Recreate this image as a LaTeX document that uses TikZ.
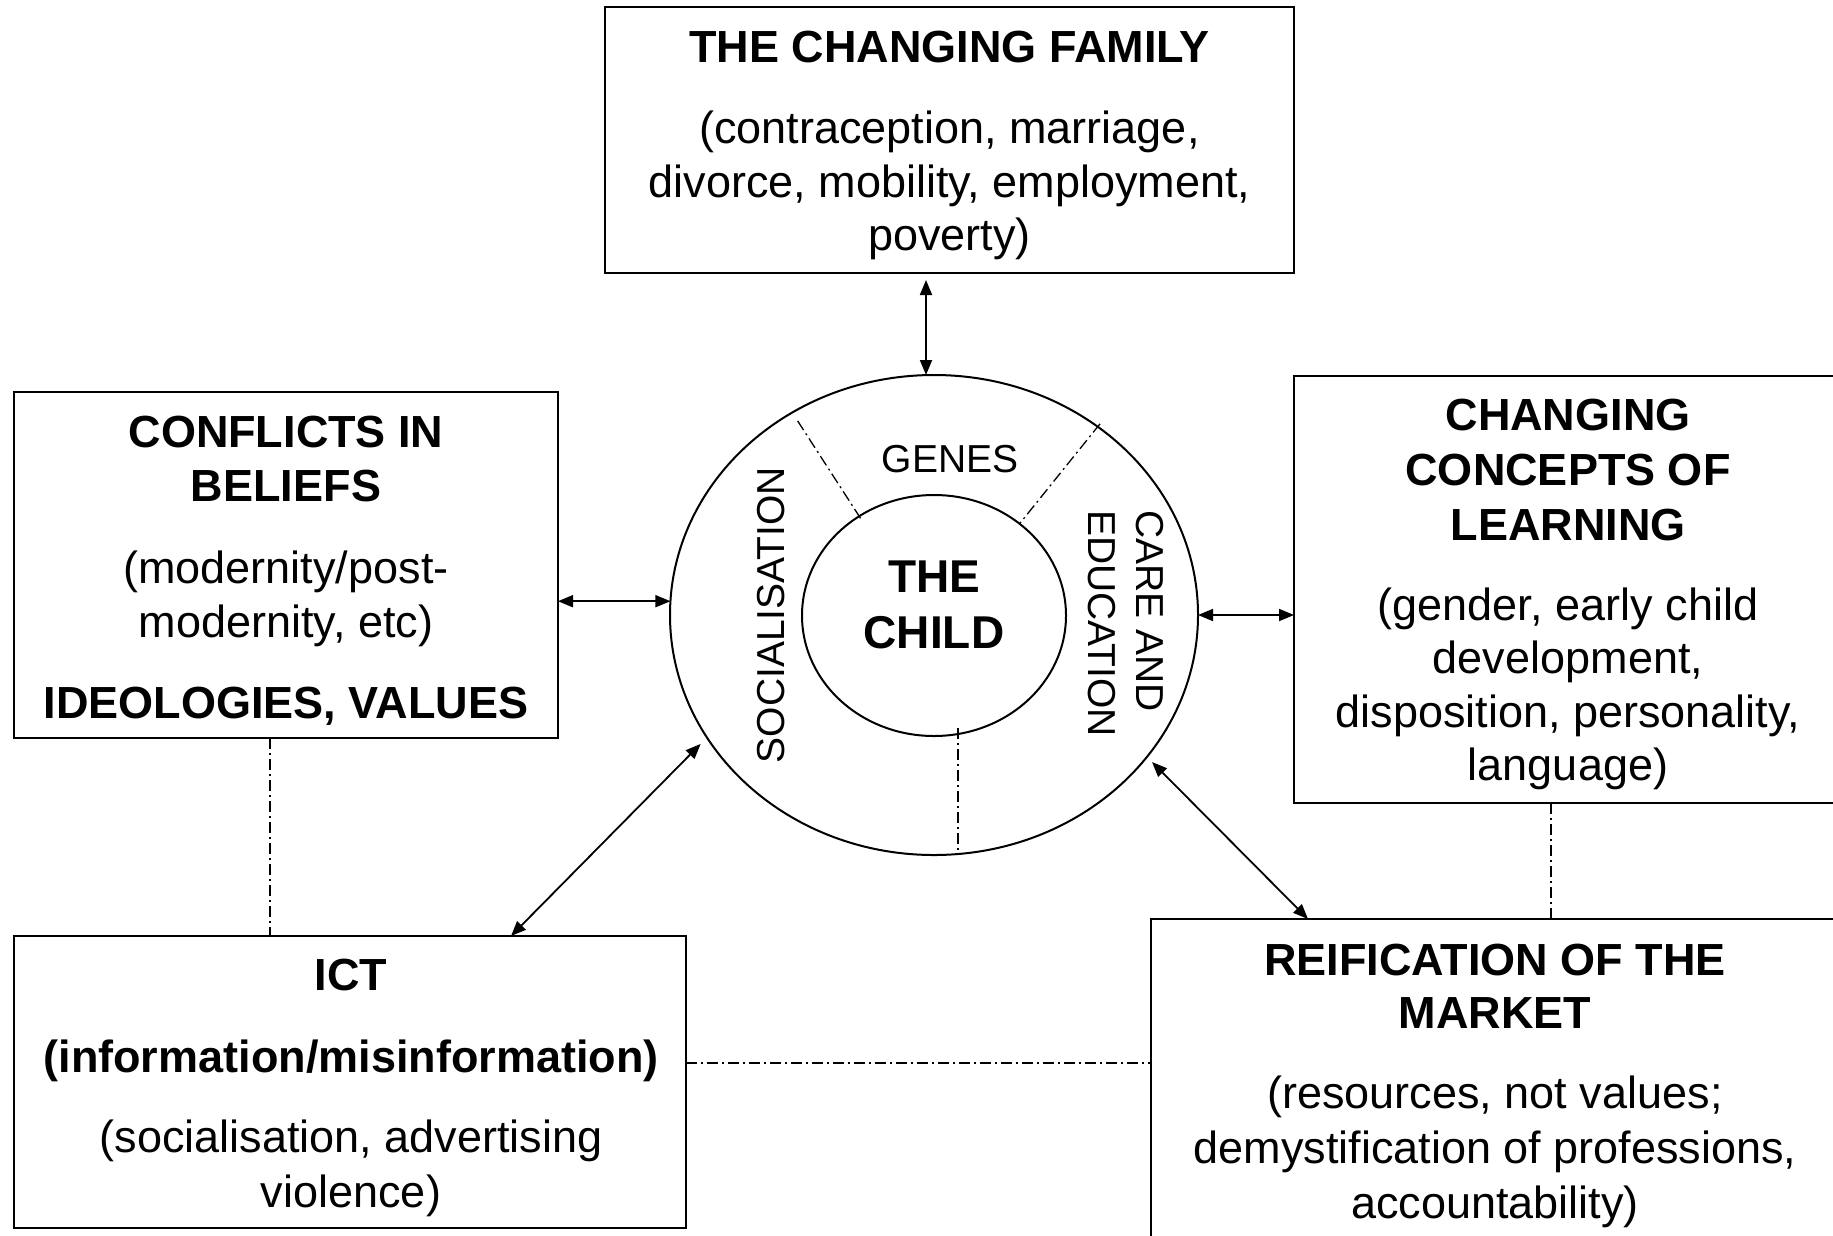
\documentclass[tikz,border=0pt]{standalone}
\usepackage{fontspec}
\setmainfont{Liberation Sans}
\usetikzlibrary{arrows.meta,calc,shapes.geometric}
\begin{document}
\begin{tikzpicture}[x=1pt,y=1pt,
 box/.style={draw, line width=2pt, inner sep=0pt, outer sep=0pt, anchor=north west},
 ring/.style={draw, ellipse, line width=2pt, inner sep=0pt, outer sep=0pt},
 bd/.style={inner sep=0pt, anchor=base, font=\fontsize{45}{54}\selectfont},
 hd/.style={inner sep=0pt, anchor=base, font=\fontsize{45}{54}\selectfont\bfseries},
 rl/.style={inner sep=0pt, font=\fontsize{39}{47}\selectfont},
 biarr/.style={{Triangle[length=15pt,width=12pt]}-{Triangle[length=15pt,width=12pt]}, line width=1.8pt},
 dd/.style={line width=1.3pt, dash pattern=on 11pt off 4pt on 2pt off 4pt}]
\useasboundingbox (0,0) rectangle (1833,-1235);
\begin{scope}
\clip (0,0) rectangle (1833,-1235);
% boxes
\node[box, minimum width=689pt, minimum height=266pt] (fam) at (605,-7) {};
\node[box, minimum width=544pt, minimum height=346pt] (conf) at (14,-392) {};
\node[box, minimum width=560pt, minimum height=427pt] (learn) at (1294,-376) {};
\node[box, minimum width=672pt, minimum height=292pt] (ict) at (14,-936) {};
\node[box, minimum width=699pt, minimum height=340pt] (mkt) at (1151,-919) {};
% rings
\node[ring, minimum width=528pt, minimum height=480pt] (outer) at (934,-615) {};
\node[ring, minimum width=264pt, minimum height=241pt] (inner) at (934,-615.5) {};
% texts: family
\node[hd] (f1) at (949.5,-62) {THE CHANGING FAMILY};
\node[bd] (f2) at (949.5,-143) {(contraception, marriage,};
\node[bd] (f3) at (949.5,-197) {divorce, mobility, employment,};
\node[bd] (f4) at (949.5,-250) {poverty)};
% conflicts
\node[hd] (c1) at (286,-447) {CONFLICTS IN};
\node[hd] (c2) at (286,-501) {BELIEFS};
\node[bd] (c3) at (286,-583) {(modernity/post-};
\node[bd] (c4) at (286,-637) {modernity, etc)};
\node[hd] (c5) at (286,-718) {IDEOLOGIES, VALUES};
% learning
\node[hd] (l1) at (1568,-430) {CHANGING};
\node[hd] (l2) at (1568,-485) {CONCEPTS OF};
\node[hd] (l3) at (1568,-540) {LEARNING};
\node[bd] (l4) at (1568,-620) {(gender, early child};
\node[bd] (l5) at (1568,-673) {development,};
\node[bd] (l6) at (1568,-727) {disposition, personality,};
\node[bd] (l7) at (1568,-780) {language)};
% ict
\node[hd] (i1) at (351,-990) {ICT};
\node[hd] (i2) at (351,-1072) {(information/misinformation)};
\node[bd] (i3) at (351,-1152) {(socialisation, advertising};
\node[bd] (i4) at (351,-1207) {violence)};
% market
\node[hd] (m1) at (1495,-975) {REIFICATION OF THE};
\node[hd] (m2) at (1495,-1028) {MARKET};
\node[bd] (m3) at (1495,-1108) {(resources, not values;};
\node[bd] (m4) at (1495,-1163) {demystification of professions,};
\node[bd] (m5) at (1495,-1218) {accountability)};
% ring texts
\node[rl, anchor=base] (genes) at (950,-472) {GENES};
\node[rl, rotate=90, anchor=base] (soc) at (784,-615) {SOCIALISATION};
\node[rl, rotate=-90, anchor=base west] (care) at (1136,-510) {CARE AND};
\node[rl, rotate=-90, anchor=base west] (edu) at (1088,-510) {EDUCATION};
\node[hd, font=\fontsize{46}{56}\selectfont\bfseries] (the) at (934,-592) {THE};
\node[hd, font=\fontsize{46}{56}\selectfont\bfseries] (child) at (934,-648) {CHILD};
% ring dividers
\draw[dd] ($(outer.125)!0.08!(inner.127)$) -- ($(outer.125)!1.04!(inner.127)$);
\draw[dd] ($(outer.49)!-0.03!(inner.47)$) -- (inner.47);
\draw[dd] ([xshift=24pt,yshift=8pt]inner.south) -- ([xshift=24pt]outer.south);
% arrows
\coordinate (famA) at ([xshift=-23.5pt,yshift=-7pt]fam.south);
\draw[biarr] (famA) -- (famA |- outer.north);
\draw[biarr] (conf.east |- outer.177) -- (outer.177);
\draw[biarr] (outer.east) -- (outer.east -| learn.west);
\draw[biarr] ([xshift=161pt]ict.north) -- ([shift={(-8pt,-4pt)}]outer.209);
\draw[biarr] ([shift={(6pt,-4pt)}]outer.-34) -- ([xshift=157pt]mkt.north west);
% dash-dot links
\coordinate (cd) at ([xshift=256pt]conf.south west);
\draw[dd] (cd) -- (cd |- ict.north);
\coordinate (ld) at ([xshift=257pt]learn.south west);
\draw[dd] (ld) -- (ld |- mkt.north);
\coordinate (id) at ([yshift=19pt]ict.east);
\draw[dd] (id) -- (id -| mkt.west);
\end{scope}
\end{tikzpicture}
\end{document}
